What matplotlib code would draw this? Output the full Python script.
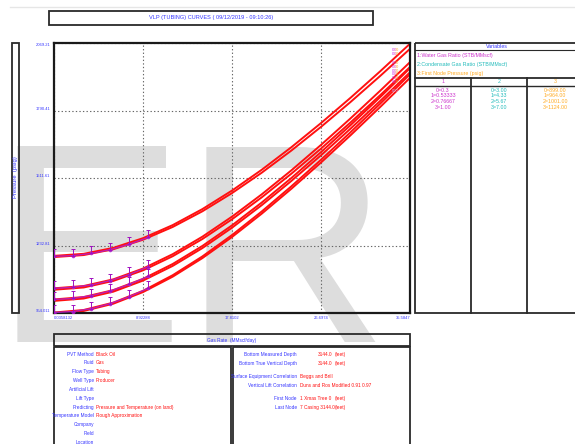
import matplotlib
matplotlib.use('Agg')
import matplotlib.pyplot as plt
from matplotlib.patches import Rectangle

plt.rcParams['font.family'] = ['Liberation Sans Narrow', 'Liberation Sans', 'DejaVu Sans']

# gas rate (MMscf/day)
gas_rate = [0.0358, 3.00, 5.96, 8.92, 11.89, 14.85, 17.81, 20.77, 23.73, 26.70, 29.66, 32.62, 35.58]

# VLP curves, pressure (psig), two curves per first node pressure bundle
vlp_a1 = [1190, 1198.5, 1223.1, 1263.1, 1317.1, 1383.1, 1459.7, 1545.3, 1638.5, 1738.5, 1843.4, 1952.8, 2066.0]
vlp_a2 = [1185, 1193.3, 1217.4, 1256.5, 1309.4, 1374.0, 1449.2, 1533.2, 1624.7, 1722.9, 1826.0, 1933.6, 2045.0]
vlp_b1 = [1056, 1065.5, 1093.1, 1137.5, 1197.0, 1269.1, 1352.0, 1443.8, 1542.9, 1648.4, 1758.4, 1872.5, 1990.0]
vlp_b2 = [1050, 1059.4, 1086.5, 1130.1, 1188.6, 1259.5, 1341.1, 1431.5, 1529.1, 1633.1, 1741.6, 1854.1, 1970.0]
vlp_c1 = [1010, 1019.9, 1048.7, 1094.9, 1156.5, 1230.8, 1316.0, 1410.0, 1511.2, 1618.6, 1730.4, 1846.1, 1965.0]
vlp_c2 = [1004, 1013.8, 1042.2, 1087.8, 1148.6, 1222.0, 1306.2, 1399.1, 1499.2, 1605.4, 1715.9, 1830.4, 1948.0]
vlp_d1 = [956, 966.5, 996.9, 1045.5, 1110.1, 1187.6, 1275.9, 1373.0, 1477.0, 1587.0, 1701.2, 1819.1, 1940.0]
vlp_d2 = [952, 962.4, 992.4, 1040.3, 1104.1, 1180.6, 1267.9, 1363.9, 1466.8, 1575.6, 1688.6, 1805.3, 1925.0]
vlp_curves = [vlp_a1, vlp_a2, vlp_b1, vlp_b2, vlp_c1, vlp_c2, vlp_d1, vlp_d2]

# test points on the low rate end of each bundle
test_rate = [0.036, 1.93, 3.77, 5.67, 7.53, 9.44]
test_a = [1188, 1191, 1200, 1216, 1238, 1266]
test_b = [1056, 1060, 1070, 1088, 1113, 1145]
test_c = [1010, 1014, 1026, 1045, 1072, 1105]
test_d = [956, 960, 972, 993, 1021, 1056]
test_points = [test_a, test_b, test_c, test_d]
test_err = 29

x_ticks = [0.0358132, 8.92288, 17.8102, 26.6974, 35.5847]
x_tick_labels = ['0.0358132', '8.92288', '17.8102', '26.6974', '35.5847']
y_ticks = [954.011, 1232.81, 1511.61, 1790.41, 2069.21]
y_tick_labels = ['954.011', '1232.81', '1511.61', '1790.41', '2069.21']

variable_names = ['1:Water Gas Ratio (STB/MMscf)', '2:Condensate Gas Ratio (STB/MMscf)',
                  '3:First Node Pressure (psig)']
wgr_values = ['0=0.3', '1=0.53333', '2=0.76667', '3=1.00']
cgr_values = ['0=3.00', '1=4.33', '2=5.67', '3=7.00']
fnp_values = ['0=899.00', '1=964.00', '2=1001.00', '3=1124.00']

info_left_labels = ['PVT Method', 'Fluid', 'Flow Type', 'Well Type', 'Artificial Lift', 'Lift Type',
                    'Predicting', 'Temperature Model', 'Company', 'Field', 'Location']
info_left_values = ['Black Oil', 'Gas', 'Tubing', 'Producer', '', '',
                    'Pressure and Temperature (on land)', 'Rough Approximation', '', '', '']

W, H = 575, 444
BLUE = '#3535ff'
RED = '#ff1010'
MAG = '#cc33cc'
CYAN = '#22bbbb'
ORANGE = '#ffaa22'
EDGE = '#2a2a2a'
FS = 3.45      # info panel text
FS_VAR = 3.75  # variables panel text


def frac(x0, y0, x1, y1):
    return [x0 / W, 1 - y1 / H, (x1 - x0) / W, (y1 - y0) / H]


fig = plt.figure(figsize=(W / 100, H / 100), dpi=100)

# background layer in pixel coordinates: watermark, boxes, panel text
bg = fig.add_axes([0, 0, 1, 1], zorder=-1)
bg.set_xlim(0, W)
bg.set_ylim(H, 0)
bg.axis('off')


def box(x0, y0, x1, y1, lw=1.3):
    bg.add_patch(Rectangle((x0, y0), x1 - x0, y1 - y0, fill=False, lw=lw, ec=EDGE, zorder=2))


bg.text(-6, 342, 'E', fontsize=205, color='#dddddd', family='Liberation Sans',
        ha='left', va='baseline', zorder=0)
bg.text(183, 342, 'R', fontsize=205, color='#dddddd', family='Liberation Sans',
        ha='left', va='baseline', zorder=0)

bg.plot([10, W], [7, 7], color='#e6e6e6', lw=1)

# title
box(49, 11, 373, 25)
bg.text(211, 18, 'VLP (TUBING) CURVES ( 09/12/2019 - 09:10:26)', fontsize=4.1, color=BLUE,
        ha='center', va='center', zorder=3)

# y label box
box(12, 43, 19, 313)
bg.text(15.5, 177, 'Pressure  (psig)', rotation=90, fontsize=4.2, color=BLUE,
        ha='center', va='center', zorder=3)

# x label box
box(54, 334, 410, 346)
bg.text(232, 340, 'Gas Rate  (MMscf/day)', fontsize=FS, color=BLUE, ha='center', va='center', zorder=3)

# variables panel
box(415, 43, 590, 313)
bg.plot([415, 590], [50.5, 50.5], color=EDGE, lw=0.8)
bg.text(497, 46.5, 'Variables', fontsize=FS_VAR, color=BLUE, ha='center', va='center', zorder=3)
for i, (name, col) in enumerate(zip(variable_names, [MAG, CYAN, ORANGE])):
    bg.text(417, 55 + i * 9.2, name, fontsize=FS_VAR, color=col, ha='left', va='center', zorder=3)
bg.plot([415, 590], [77.7, 77.7], color=EDGE, lw=1.3)
bg.plot([415, 590], [86.5, 86.5], color=EDGE, lw=1.0)
for xv in [471, 527]:
    bg.plot([xv, xv], [77.7, 313], color=EDGE, lw=1.3)
for j, (vals, col) in enumerate(zip([wgr_values, cgr_values, fnp_values], [MAG, CYAN, ORANGE])):
    xc = 443 + j * 56
    bg.text(xc, 81.5, str(j + 1), fontsize=FS_VAR, color=col, ha='center', va='center', zorder=3)
    for i, v in enumerate(vals):
        bg.text(xc, 90 + i * 5.9, v, fontsize=FS_VAR, color=col, ha='center', va='center', zorder=3)

# bottom info panels
box(54, 347, 231, 460)
box(233, 347, 410, 460)
for i, (lab, val) in enumerate(zip(info_left_labels, info_left_values)):
    y = 354 + i * 8.85
    bg.text(94, y, lab, fontsize=FS, color=BLUE, ha='right', va='center', zorder=3)
    bg.text(96, y, val, fontsize=FS, color=RED, ha='left', va='center', zorder=3)

right_rows = [
    (354, 'Bottom Measured Depth', [(318, '3144.0'), (335, '(feet)')]),
    (363, 'Bottom True Vertical Depth', [(318, '3144.0'), (335, '(feet)')]),
    (376.5, 'Surface Equipment Correlation', [(299.5, 'Beggs and Brill')]),
    (385, 'Vertical Lift Correlation', [(299.5, 'Duns and Ros Modified 0.91 0.97')]),
    (398.5, 'First Node', [(299.5, '1 Xmas Tree 0'), (335, '(feet)')]),
    (407, 'Last Node', [(299.5, '7 Casing 3144.0'), (335, '(feet)')]),
]
for y, lab, vals in right_rows:
    bg.text(297, y, lab, fontsize=FS, color=BLUE, ha='right', va='center', zorder=3)
    for xv, txt in vals:
        bg.text(xv, y, txt, fontsize=FS, color=RED, ha='left', va='center', zorder=3)

# main chart
ax = fig.add_axes(frac(54, 43, 410, 313), zorder=1)
ax.set_facecolor('none')
for c in vlp_curves:
    ax.plot(gas_rate, c, color=RED, lw=1.4, zorder=2, solid_capstyle='round')
for pts in test_points:
    ax.plot(test_rate, pts, color='#b020d0', lw=1.0, alpha=0.85, marker='o', ms=1.6, zorder=3)
    ax.errorbar(test_rate, pts, yerr=[[0] * len(pts), [test_err] * len(pts)], fmt='none',
                ecolor='#a010c0', elinewidth=0.7, capsize=1.3, capthick=0.7, zorder=3)

# curve end labels
for y0 in [2040, 2025, 1985, 1970, 1955, 1940, 1925, 1910]:
    for k, col in enumerate(['#cc22ee', '#dd44aa', ORANGE]):
        ax.text(33.9 + k * 0.17, y0, '0', fontsize=3.0, color=col, ha='center', va='center', zorder=4)
ax.text(34.1, 1870, '000', fontsize=3.0, color='#b8a8ff', ha='center', va='center', zorder=4)

ax.set_xlim(x_ticks[0], x_ticks[-1])
ax.set_ylim(y_ticks[0], y_ticks[-1])
ax.set_xticks(x_ticks)
ax.set_xticklabels(x_tick_labels)
ax.set_yticks(y_ticks)
ax.set_yticklabels(y_tick_labels)
ax.tick_params(length=0, labelsize=3.0, labelcolor=BLUE, pad=2.5)
xl = ax.get_xticklabels()
xl[0].set_horizontalalignment('left')
xl[-1].set_horizontalalignment('right')
yl = ax.get_yticklabels()
for t in yl:
    t.set_verticalalignment('bottom')
yl[-1].set_verticalalignment('top')
ax.grid(True, color='#666666', linestyle=(0, (1.2, 2.0)), lw=0.8)
for s in ax.spines.values():
    s.set_linewidth(1.6)
    s.set_color('#1a1a1a')

fig.savefig('out.png', dpi=100)
